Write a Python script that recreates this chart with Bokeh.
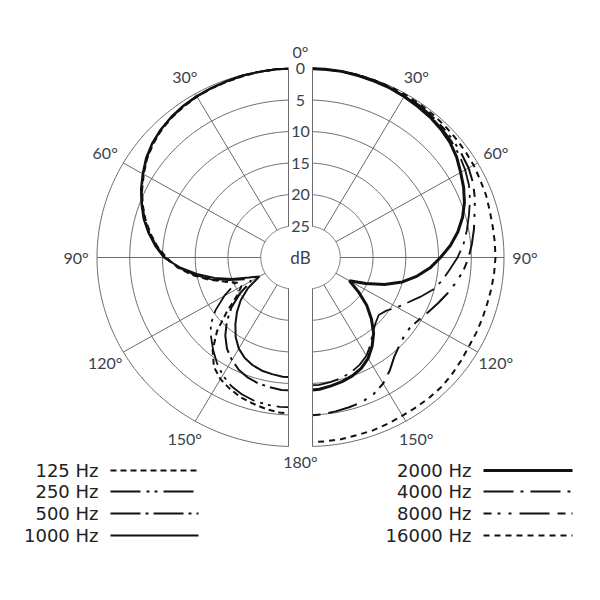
import numpy as np
from bokeh.core.properties import value
from bokeh.embed import file_html
from bokeh.models import Range1d
from bokeh.plotting import figure
from bokeh.resources import INLINE

# angle of incidence (deg) and attenuation (dB)
angles = [0, 5, 10, 15, 20, 25, 30, 35, 40, 45, 50, 55, 60, 65, 70, 75, 80, 85, 90,
          95, 100, 105, 110, 115, 120, 125, 130, 135, 140, 145, 150, 155, 160, 165, 170, 175, 180]

# left half: low frequencies
att_125 = [0, 0, 0.1, 0.2, 0.3, 0.4, 0.55, 0.75, 1.05, 1.45, 2.0, 2.7, 3.6, 4.5, 5.5, 6.6, 7.8, 9.1, 10.6,
           12.2, 14.2, 16.5, 18.8, 20.5, 20.8, 19.5, 16.8, 13.5, 10.8, 8.8, 7.7, 7.0, 6.4, 6.0, 5.6, 5.3, 5.2]
att_250 = [0, 0, 0.05, 0.15, 0.25, 0.35, 0.5, 0.7, 1.0, 1.4, 1.9, 2.6, 3.5, 4.4, 5.4, 6.5, 7.7, 9.0, 10.4,
           12.4, 14.5, 16.8, 19.0, 20.2, 17.8, 15.5, 13.5, 12.2, 10.9, 9.6, 8.4, 7.5, 6.9, 6.5, 6.3, 6.2, 6.2]
att_500 = [0, 0, 0.05, 0.1, 0.2, 0.35, 0.45, 0.65, 0.95, 1.35, 1.9, 2.6, 3.5, 4.4, 5.4, 6.4, 7.6, 8.9, 10.3,
           12.3, 14.6, 17.0, 19.5, 21.8, 22.5, 20.0, 17.6, 15.6, 13.8, 12.3, 11.2, 10.3, 9.7, 9.3, 9.1, 8.9, 8.9]
att_1000 = [0, 0, 0.05, 0.1, 0.2, 0.3, 0.4, 0.6, 0.9, 1.3, 1.8, 2.5, 3.4, 4.3, 5.3, 6.3, 7.5, 8.8, 10.2,
            12.5, 15.0, 17.5, 20.0, 22.5, 24.0, 21.5, 19.5, 17.8, 16.2, 14.6, 13.3, 12.4, 11.8, 11.4, 11.2, 11.0, 11.0]

# right half: high frequencies
att_2000 = [0, 0, 0, 0.1, 0.2, 0.3, 0.5, 0.7, 0.9, 1.2, 1.6, 2.2, 3.0, 3.7, 4.5, 5.5, 6.7, 8.1, 9.7,
            11.2, 13.0, 15.0, 17.5, 20.2, 22.6, 20.5, 18.2, 16.2, 14.3, 12.8, 11.5, 10.6, 10.0, 9.6, 9.3, 9.0, 8.9]
att_4000 = [0, 0, 0, 0.1, 0.2, 0.3, 0.4, 0.6, 0.8, 1.0, 1.3, 1.7, 2.2, 2.8, 3.6, 4.5, 5.3, 6.1, 7.1,
            8.2, 9.1, 10.2, 11.7, 13.1, 14.2, 15.3, 15.8, 15.3, 14.5, 13.2, 12.0, 11.2, 10.6, 10.2, 9.9, 9.7, 9.7]
att_8000 = [0, 0, 0, 0.05, 0.1, 0.2, 0.3, 0.4, 0.6, 0.8, 1.0, 1.3, 1.6, 2.1, 2.8, 3.6, 4.2, 4.8, 5.4,
            6.1, 7.0, 7.9, 8.8, 9.6, 10.3, 10.8, 10.7, 10.2, 9.4, 8.1, 6.9, 6.1, 5.6, 5.4, 5.2, 5.0, 4.9]
att_16000 = [0, 0, 0, 0, 0.05, 0.1, 0.15, 0.2, 0.3, 0.4, 0.5, 0.6, 0.7, 0.9, 1.0, 1.2, 1.3, 1.3, 1.3,
             1.4, 1.5, 1.6, 1.6, 1.6, 1.6, 1.4, 1.2, 1.0, 1.0, 1.0, 1.0, 0.9, 0.8, 0.8, 0.7, 0.7, 0.7]

ring_db = [0, 5, 10, 15, 20, 25]
spoke_angles = [30, 60, 90, 120, 150]
left_labels = ["125 Hz", "250 Hz", "500 Hz", "1000 Hz"]
right_labels = ["2000 Hz", "4000 Hz", "8000 Hz", "16000 Hz"]

FLOOR = 30.0          # dB range of the chart
SX, SY = 6.55, 6.3    # px per dB, horizontal / vertical
OFF = 7 / SX          # each half is pushed away from the centre line
GAP = 12 / SX         # half width of the white strip in the middle

W = H = 584
CX, CY = 300, 257     # centre in canvas px
p = figure(width=W, height=H, output_backend="svg", toolbar_location=None,
           x_range=Range1d(-CX / SX, (W - CX) / SX),
           y_range=Range1d(-(H - CY) / SY, CY / SY),
           x_axis_type=None, y_axis_type=None, min_border=0)
p.grid.visible = False
p.outline_line_color = None
p.background_fill_color = "white"


def polar(side, ang, db):
    th = np.radians(np.asarray(ang, dtype=float))
    u = FLOOR - np.asarray(db, dtype=float)
    return side * (OFF + u * np.sin(th)), u * np.cos(th)


def px(x):
    return (x - CX) / SX


def py(y):
    return (CY - y) / SY


grid_color = "#6b6b6b"
fine = np.linspace(0, 180, 181)
for side in (-1, 1):
    for db in ring_db:
        x, y = polar(side, fine, np.full_like(fine, db))
        p.line(x, y, line_color=grid_color, line_width=1)
    for a in spoke_angles:
        x, y = polar(side, [a, a], [0, 25])
        p.line(x, y, line_color=grid_color, line_width=1)

curves = [
    (-1, att_125, "6 4", 2.0),
    (-1, att_250, "30 6 3 5 3 6", 1.8),
    (-1, att_500, "30 5 3 5", 2.0),
    (-1, att_1000, "solid", 2.0),
    (1, att_2000, "solid", 3.0),
    (1, att_4000, "30 7 3 7", 1.8),
    (1, att_8000, "8 6 3 8 3 8 30 8", 2.0),
    (1, att_16000, "6 5", 2.0),
]
for side, att, dash, lw in curves:
    x, y = polar(side, angles, att)
    p.line(x, y, line_color="#111111", line_width=lw, line_dash=dash)

# white strip between the two halves
p.quad(left=-GAP, right=GAP, bottom=-31, top=31, fill_color="white", line_color=None)
for s in (-1, 1):
    p.line([s * GAP, s * GAP], [4.9, 30], line_color=grid_color, line_width=1)
    p.line([s * GAP, s * GAP], [-4.9, -30], line_color=grid_color, line_width=1)

lab_font = value("Lato")
lab_color = "#3a3f4f"
p.text(x=[0] * len(ring_db), y=[FLOOR - d for d in ring_db], text=[str(d) for d in ring_db],
       text_font=lab_font, text_font_size="16px", text_color=lab_color,
       text_align="center", text_baseline="middle")
p.text(x=[0], y=[0], text=["dB"], text_font=lab_font, text_font_size="17px",
       text_color=lab_color, text_align="center", text_baseline="middle")

ax, ay, at = [], [], []
for side in (-1, 1):
    for a in spoke_angles:
        x, y = polar(side, [a], [-3.2])
        ax.append(x[0]); ay.append(y[0]); at.append(f"{a}\u00b0")
ax += [0, 0]
ay += [32.7, -32.4]
at += ["0\u00b0", "180\u00b0"]
p.text(x=ax, y=ay, text=at, text_font=lab_font, text_font_size="16px", text_color=lab_color,
       text_align="center", text_baseline="middle")

# legend: label on the left, line sample on the right
rows_y = [470, 491, 513, 535]
leg_font = value("DejaVu Sans")
for labels, tx, x0, x1, group in ((left_labels, 98, 110, 198, curves[:4]),
                                  (right_labels, 471, 483, 572, curves[4:])):
    p.text(x=[px(tx)] * 4, y=[py(r) for r in rows_y], text=labels, text_font=leg_font,
           text_font_size="18px", text_color="#222222", text_align="right",
           text_baseline="middle")
    for r, (_, _, dash, lw) in zip(rows_y, group):
        p.line([px(x0), px(x1)], [py(r), py(r)], line_color="#111111",
               line_width=lw, line_dash=dash)

open("out.html", "w").write(file_html(p, INLINE))
